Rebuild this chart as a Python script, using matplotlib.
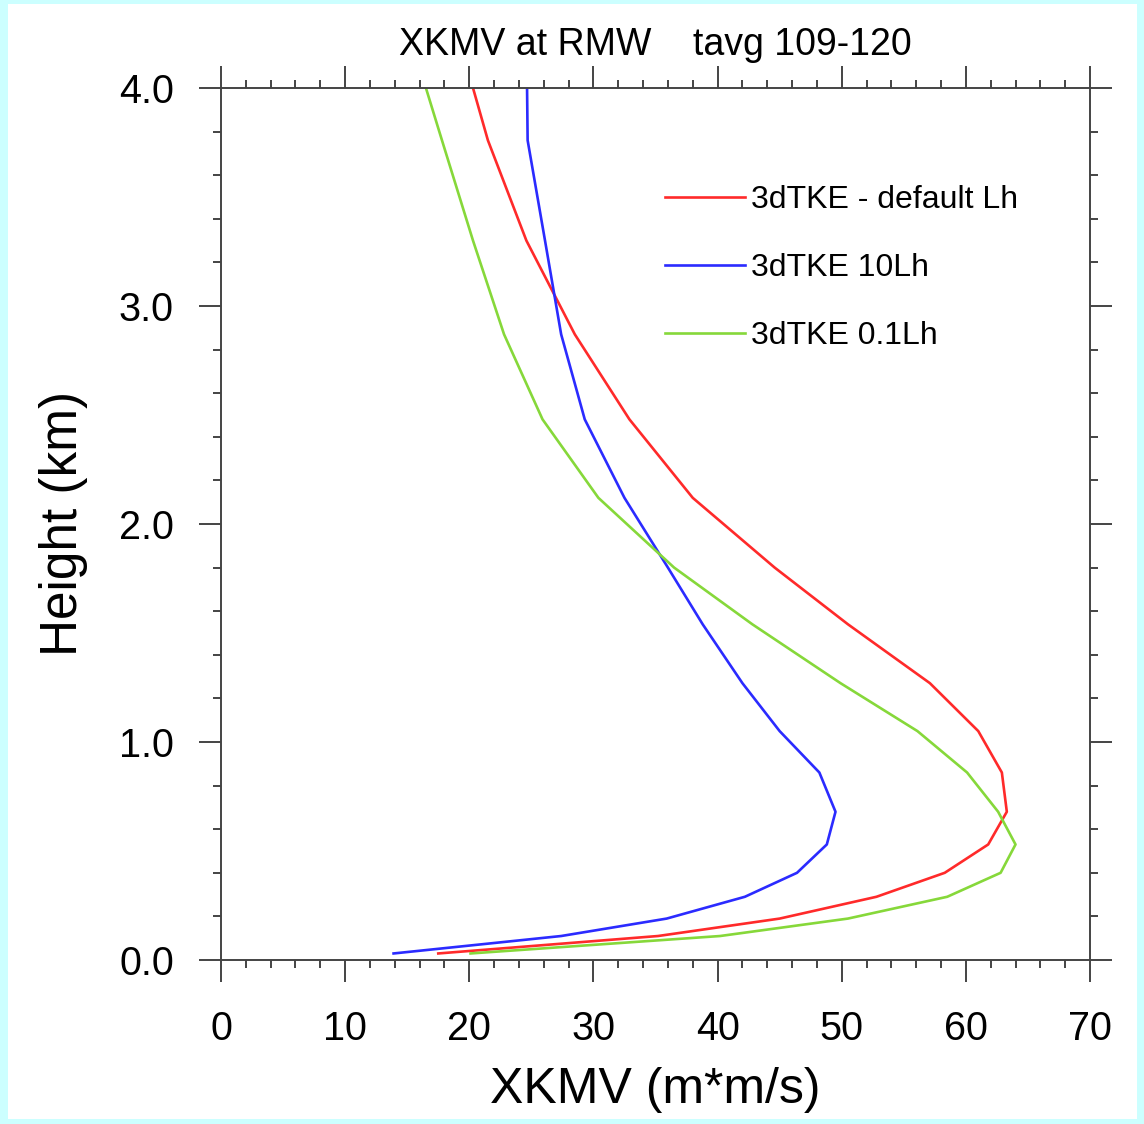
import numpy as np
import matplotlib
matplotlib.use("Agg")
import matplotlib.pyplot as plt
from matplotlib.patches import Rectangle
from matplotlib.ticker import MultipleLocator

plt.rcParams["font.family"] = ["Liberation Sans", "DejaVu Sans"]

# =======================
# data
# =======================
heights = [0.03, 0.11, 0.19, 0.29, 0.40, 0.53, 0.68, 0.86, 1.05, 1.27,
           1.54, 1.80, 2.12, 2.48, 2.87, 3.30, 3.76, 4.28]

xkmv_default = [17.5, 35.2, 45.0, 52.8, 58.3, 61.8, 63.3, 62.9, 61.0, 57.1,
                50.5, 44.6, 38.0, 32.9, 28.5, 24.6, 21.5, 18.9]
xkmv_10lh = [13.9, 27.4, 35.9, 42.2, 46.4, 48.8, 49.5, 48.2, 45.0, 42.0,
             38.8, 36.0, 32.5, 29.3, 27.4, 26.1, 24.7, 24.6]
xkmv_01lh = [20.1, 40.2, 50.5, 58.5, 62.8, 64.0, 62.6, 60.1, 56.1, 49.9,
             42.8, 36.5, 30.4, 25.9, 22.8, 20.3, 17.8, 15.0]

labels = ["3dTKE - default Lh", "3dTKE 10Lh", "3dTKE 0.1Lh"]
colors = ["#ff2a2a", "#2b2bff", "#86d83a"]

# =======================
# figure
# =======================
fig = plt.figure(figsize=(11.44, 11.24), dpi=100)
fig.patch.set_facecolor("#ccffff")
fig.patches.append(Rectangle((8 / 1144, 5 / 1124), 1 - 15 / 1144, 1 - 9 / 1124,
                             transform=fig.transFigure, facecolor="white",
                             edgecolor="none", zorder=-10))

ax = fig.add_axes([221 / 1144, 164 / 1124, 869 / 1144, 872 / 1124])
ax.set_zorder(5)

for xs, lab, c in zip([xkmv_default, xkmv_10lh, xkmv_01lh], labels, colors):
    ax.plot(xs, heights, color=c, lw=1.9, label=lab)

ax.set_xlim(0, 70)
ax.set_ylim(0, 4.0)
ax.xaxis.set_major_locator(MultipleLocator(10))
ax.xaxis.set_minor_locator(MultipleLocator(2))
ax.yaxis.set_major_locator(MultipleLocator(1.0))
ax.yaxis.set_minor_locator(MultipleLocator(0.2))
ax.yaxis.set_major_formatter(lambda v, p: f"{v:.1f}")

ax.tick_params(which="both", direction="out", top=True, right=True,
               color="#444444", width=1.4)
ax.tick_params(which="major", length=16, labelsize=28.5)
ax.tick_params(which="minor", length=6)
ax.tick_params(axis="x", pad=20)
ax.tick_params(axis="y", pad=18)
for s in ax.spines.values():
    s.set_linewidth(1.4)
    s.set_color("#444444")

ax.set_xlabel("XKMV (m*m/s)", fontsize=36, labelpad=14)
ax.set_ylabel("Height (km)", fontsize=37, labelpad=22)
ax.set_title("XKMV at RMW    tavg 109-120", fontsize=27, pad=24)

ax.legend(loc="upper left", bbox_to_anchor=(0.511, 0.889), frameon=False,
          fontsize=23, handlelength=2.5, handletextpad=0.19, labelspacing=1.2,
          borderpad=0, borderaxespad=0)

fig.savefig("out.png", dpi=100, facecolor=fig.get_facecolor())
